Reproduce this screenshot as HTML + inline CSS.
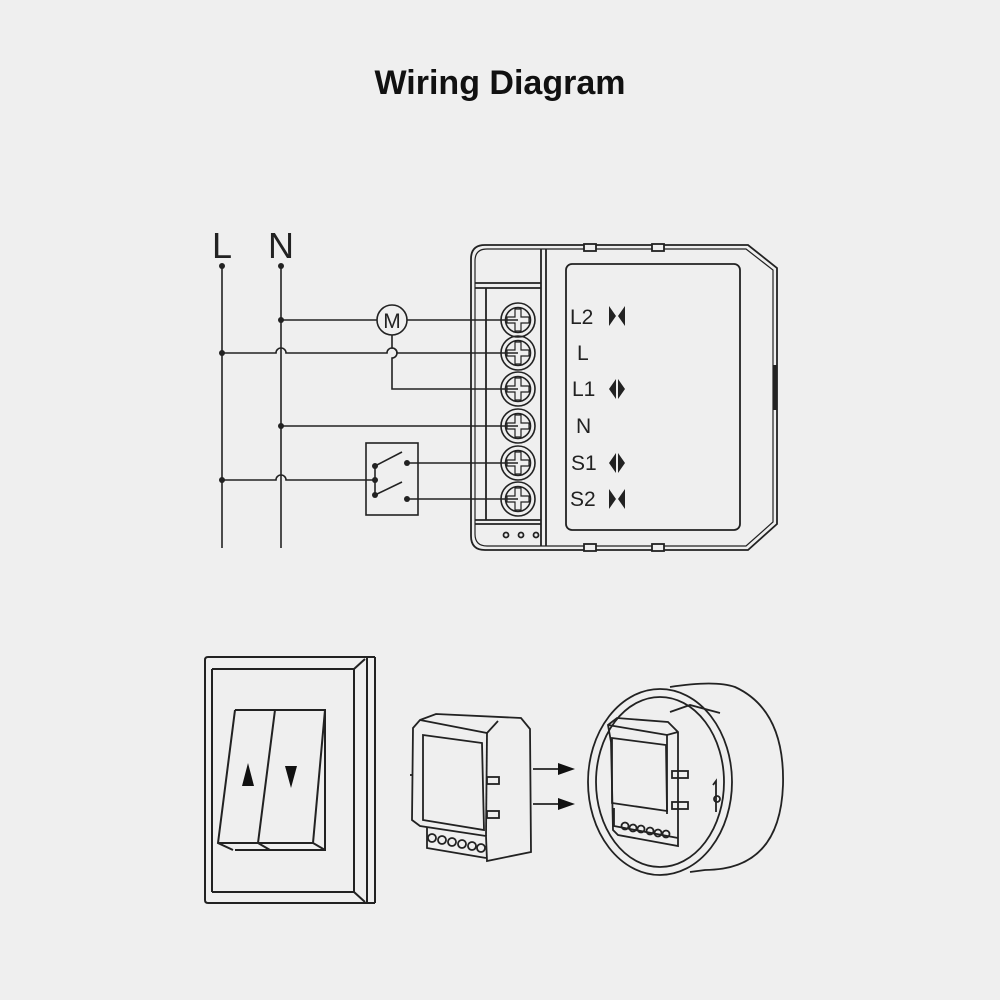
<!DOCTYPE html>
<html><head><meta charset="utf-8"><style>
html,body{margin:0;padding:0;background:#efefef;}
svg{display:block}
</style></head><body>
<svg width="1000" height="1000" viewBox="0 0 1000 1000" xmlns="http://www.w3.org/2000/svg">
<rect width="1000" height="1000" fill="#efefef"/>
<text x="500" y="94" text-anchor="middle" font-family="Liberation Sans, sans-serif" font-weight="bold" font-size="34" fill="#111">Wiring Diagram</text>

<g fill="none" stroke="#222" stroke-width="1.6">
<!-- L N lines -->
<line x1="222" y1="266" x2="222" y2="548"/>
<line x1="281" y1="266" x2="281" y2="548"/>
<!-- N -> M -> L2 -->
<line x1="281" y1="320" x2="377" y2="320"/>
<circle cx="392" cy="320" r="15" fill="#efefef"/>
<line x1="407" y1="320" x2="518" y2="320"/>
<!-- L -> L terminal with hop -->
<path d="M222 353 H276 a5 5 0 0 1 10 0 H387 a5 5 0 0 1 10 0 H518"/>
<!-- M -> L1 -->
<path d="M392 335 V348 a5 5 0 0 1 0 10 V389 H518"/>
<!-- N -> N terminal -->
<line x1="281" y1="426" x2="518" y2="426"/>
<!-- L -> switch -->
<path d="M222 480 H276 a5 5 0 0 1 10 0 H375"/>
<rect x="366" y="443" width="52" height="72"/>
<line x1="375" y1="466" x2="375" y2="495"/>
<line x1="375" y1="466" x2="402" y2="452"/>
<line x1="375" y1="495" x2="402" y2="482"/>
<line x1="407" y1="463" x2="518" y2="463"/>
<line x1="407" y1="499" x2="518" y2="499"/>
</g>
<g fill="#222">
<circle cx="222" cy="266" r="3"/><circle cx="281" cy="266" r="3"/>
<circle cx="281" cy="320" r="3"/><circle cx="222" cy="353" r="3"/>
<circle cx="281" cy="426" r="3"/><circle cx="222" cy="480" r="3"/>
<circle cx="375" cy="466" r="3"/><circle cx="375" cy="480" r="3"/><circle cx="375" cy="495" r="3"/>
<circle cx="407" cy="463" r="3"/><circle cx="407" cy="499" r="3"/>
</g>
<text x="392" y="328" text-anchor="middle" font-family="Liberation Sans, sans-serif" font-size="21" fill="#222">M</text>
<text x="222" y="258" text-anchor="middle" font-family="Liberation Sans, sans-serif" font-size="36" fill="#222">L</text>
<text x="281" y="258" text-anchor="middle" font-family="Liberation Sans, sans-serif" font-size="36" fill="#222">N</text>

<!-- module -->
<g fill="none" stroke="#222" stroke-width="1.8">
<path d="M485 245 H748 L777 268 V524 L748 550 H485 Q471 550 471 536 V259 Q471 245 485 245 Z"/>
<path d="M487 249 H746 L773 270 V522 L746 546 H487 Q475 546 475 534 V261 Q475 249 487 249 Z" stroke-width="1.2"/>
<line x1="541" y1="249" x2="541" y2="546"/>
<line x1="546" y1="249" x2="546" y2="546"/>
<line x1="475" y1="283" x2="541" y2="283"/>
<line x1="475" y1="288" x2="541" y2="288"/>
<line x1="486" y1="288" x2="486" y2="520"/>
<line x1="475" y1="520" x2="541" y2="520"/>
<line x1="475" y1="524" x2="541" y2="524"/>
<rect x="566" y="264" width="174" height="266" rx="6"/>
<rect x="584" y="244" width="12" height="7" fill="#efefef"/>
<rect x="652" y="244" width="12" height="7" fill="#efefef"/>
<rect x="584" y="544" width="12" height="7" fill="#efefef"/>
<rect x="652" y="544" width="12" height="7" fill="#efefef"/>
<line x1="775" y1="365" x2="775" y2="410" stroke-width="3"/>
<circle cx="506" cy="535" r="2.5"/><circle cx="521" cy="535" r="2.5"/><circle cx="536" cy="535" r="2.5"/>
</g>
<g fill="#efefef" stroke="#222" stroke-width="1.6">
<g id="t">
</g>
</g>
<g stroke="#222" stroke-width="1.6" fill="none">
<circle cx="518" cy="320" r="17"/><circle cx="518" cy="320" r="12.5"/>
<circle cx="518" cy="353" r="17"/><circle cx="518" cy="353" r="12.5"/>
<circle cx="518" cy="389" r="17"/><circle cx="518" cy="389" r="12.5"/>
<circle cx="518" cy="426" r="17"/><circle cx="518" cy="426" r="12.5"/>
<circle cx="518" cy="463" r="17"/><circle cx="518" cy="463" r="12.5"/>
<circle cx="518" cy="499" r="17"/><circle cx="518" cy="499" r="12.5"/>
<path d="M515 309v8h-8v6h8v8h6v-8h8v-6h-8v-8z" stroke-width="1.2"/>
<path d="M515 342v8h-8v6h8v8h6v-8h8v-6h-8v-8z" stroke-width="1.2"/>
<path d="M515 378v8h-8v6h8v8h6v-8h8v-6h-8v-8z" stroke-width="1.2"/>
<path d="M515 415v8h-8v6h8v8h6v-8h8v-6h-8v-8z" stroke-width="1.2"/>
<path d="M515 452v8h-8v6h8v8h6v-8h8v-6h-8v-8z" stroke-width="1.2"/>
<path d="M515 488v8h-8v6h8v8h6v-8h8v-6h-8v-8z" stroke-width="1.2"/>
</g>
<g font-family="Liberation Sans, sans-serif" font-size="21" fill="#222">
<text x="570" y="324">L2</text>
<text x="577" y="360">L</text>
<text x="572" y="396">L1</text>
<text x="576" y="433">N</text>
<text x="571" y="470">S1</text>
<text x="570" y="506">S2</text>
</g>
<g fill="#222">
<path d="M609 306 L616 316 L609 326Z M625 306 L618 316 L625 326Z"/>
<path d="M616 379 L609 389 L616 399Z M618 379 L625 389 L618 399Z"/>
<path d="M616 453 L609 463 L616 473Z M618 453 L625 463 L618 473Z"/>
<path d="M609 489 L616 499 L609 509Z M625 489 L618 499 L625 509Z"/>
</g>

<!-- bottom: wall switch -->
<g fill="none" stroke="#222" stroke-width="2">
<path d="M208 657 H367 V903 H208 Q205 903 205 900 V660 Q205 657 208 657Z"/>
<line x1="367" y1="657" x2="375" y2="657"/><line x1="375" y1="657" x2="375" y2="903"/><line x1="367" y1="903" x2="375" y2="903"/>
<path d="M212 669 H354"/><path d="M354 669 L365 659"/>
<line x1="354" y1="669" x2="354" y2="892"/><line x1="354" y1="892" x2="365" y2="902"/>
<line x1="212" y1="892" x2="354" y2="892"/>
<line x1="212" y1="669" x2="212" y2="892"/>
<path d="M235 710 H325 V850 H235"/>
<path d="M235 710 L218 843 L233 850"/>
<path d="M275 710 L258 843 L270 850"/>
<path d="M325 710 L313 843 L325 850"/>
<line x1="218" y1="843" x2="313" y2="843"/>
</g>
<path d="M242 786 L248 763 L254 786Z M285 766 L297 766 L291 788Z" fill="#111"/>

<!-- loose module -->
<g fill="none" stroke="#222" stroke-width="1.8">
<path d="M420 720 L436 714 L521 718 L530 729 L531 852 L487 861 L486 836 L420 826 L412 820 L413 728Z"/>
<path d="M420 720 L487 733 L498 721"/>
<path d="M487 733 L486 836"/>
<path d="M423 735 L482 743 L484 830 L423 820Z"/>
<path d="M427 827 V848 L486 858"/>
<rect x="487" y="777" width="12" height="7"/><rect x="487" y="811" width="12" height="7"/>
<line x1="413" y1="775" x2="410" y2="775"/>
<circle cx="432" cy="838" r="4"/><circle cx="442" cy="840" r="4"/><circle cx="452" cy="842" r="4"/><circle cx="462" cy="844" r="4"/><circle cx="472" cy="846" r="4"/><circle cx="481" cy="848" r="4"/>
<line x1="533" y1="769" x2="560" y2="769"/><line x1="533" y1="804" x2="560" y2="804"/>
</g>
<path d="M558 763 L575 769 L558 775Z M558 798 L575 804 L558 810Z" fill="#111"/>

<!-- round box -->
<g fill="none" stroke="#222" stroke-width="1.8">
<path d="M670 687 Q715 680 735 687 Q785 710 783 785 Q780 870 705 870 L690 872"/>
<ellipse cx="660" cy="782" rx="72" ry="93" fill="#efefef"/>
<ellipse cx="660" cy="782" rx="64" ry="85"/>
<path d="M670 712 L690 705 L720 713"/>
<path d="M608 725 L617 718 L668 722 L678 732 L678 846 L618 835 L613 830 L611 742Z"/>
<path d="M608 725 L667 735 L678 732"/>
<path d="M667 735 L667 814"/>
<path d="M612 738 L666 745 L667 811 L612 803Z"/>
<path d="M614 808 V826 L678 838"/>
<rect x="672" y="771" width="16" height="7"/><rect x="672" y="802" width="16" height="7"/>
<circle cx="625" cy="826" r="3.5"/><circle cx="633" cy="828" r="3.5"/><circle cx="641" cy="829" r="3.5"/><circle cx="650" cy="831" r="3.5"/><circle cx="658" cy="833" r="3.5"/><circle cx="666" cy="834" r="3.5"/>
<path d="M713 785 L716 781 V812"/><circle cx="717" cy="799" r="3"/>
</g>
</svg>
</body></html>
